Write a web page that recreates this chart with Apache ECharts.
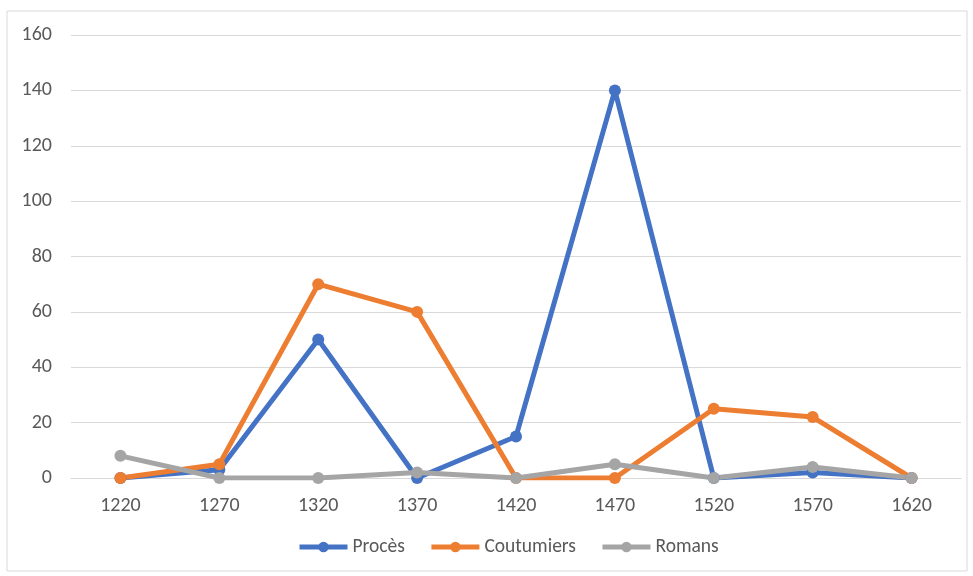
<!DOCTYPE html>
<html><head><meta charset="utf-8">
<script src="https://cdn.jsdelivr.net/npm/echarts@6/dist/echarts.min.js"></script>
<style>html,body{margin:0;padding:0;background:#fff}#c{width:973px;height:576px}</style>
</head><body><div id="c"></div>
<script>
const categories = ['1220','1270','1320','1370','1420','1470','1520','1570','1620'];
const proces = [0, 3, 50, 0, 15, 140, 0, 2, 0];
const coutumiers = [0, 5, 70, 60, 0, 0, 25, 22, 0];
const romans = [8, 0, 0, 2, 0, 5, 0, 4, 0];

const chart = echarts.init(document.getElementById('c'));
const font = 'Calibri, Carlito, "Liberation Sans", sans-serif';
function s(name, data, color) {
  return {name, type:'line', data, symbol:'circle', symbolSize:12,
    lineStyle:{width:5,color}, itemStyle:{color}, z: 2};
}
chart.setOption({
  animation:false,
  textStyle:{fontFamily:font},
  graphic:[{type:'rect', shape:{x:7,y:11,width:960,height:560}, style:{fill:null, stroke:'#d9d9d9', lineWidth:1}, silent:true}],
  grid:{left:71, right:12, top:35, bottom:98},
  legend:{bottom:14, left:292, itemWidth:48, itemHeight:13, itemGap:24,
    lineStyle:{width:5},
    textStyle:{fontSize:19.5, color:'#595959', fontFamily:font},
    data:['Procès','Coutumiers','Romans']},
  xAxis:{type:'category', data:categories, boundaryGap:true,
    axisLine:{lineStyle:{color:'#d9d9d9', width:1}}, axisTick:{show:false},
    axisLabel:{fontSize:20, color:'#595959', margin:18}},
  yAxis:{type:'value', min:0, max:160, interval:20,
    axisLine:{show:false}, axisTick:{show:false},
    splitLine:{lineStyle:{color:'#d9d9d9', width:1}},
    axisLabel:{fontSize:20, color:'#595959', margin:19}},
  series:[s('Procès', proces, '#4472C4'), s('Coutumiers', coutumiers, '#ED7D31'), s('Romans', romans, '#A5A5A5')]
});
</script></body></html>
